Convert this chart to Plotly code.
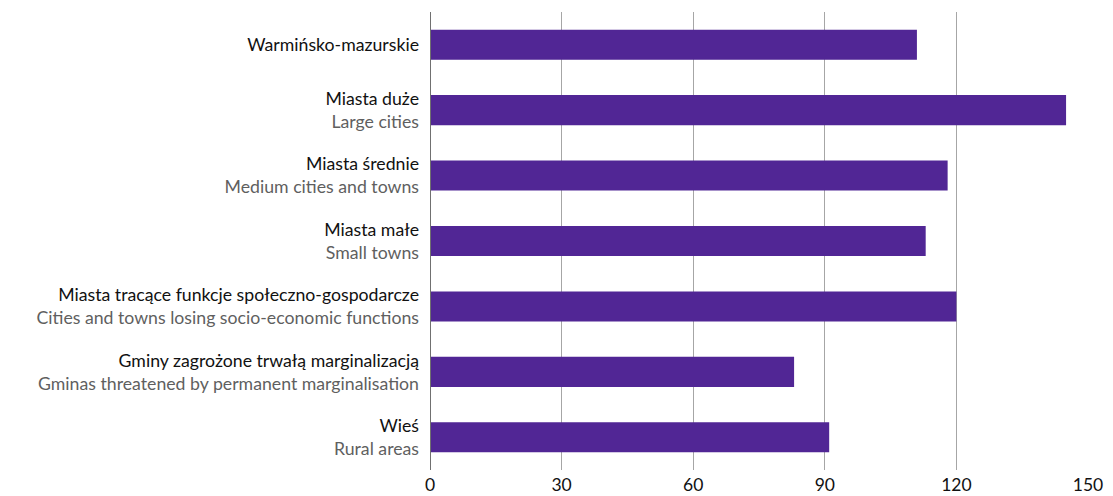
import plotly.graph_objects as go

# kategorie (PL / EN) i wartości
labels_pl = [
    "Warmińsko-mazurskie",
    "Miasta duże",
    "Miasta średnie",
    "Miasta małe",
    "Miasta tracące funkcje społeczno-gospodarcze",
    "Gminy zagrożone trwałą marginalizacją",
    "Wieś",
]
labels_en = [
    "",
    "Large cities",
    "Medium cities and towns",
    "Small towns",
    "Cities and towns losing socio-economic functions",
    "Gminas threatened by permanent marginalisation",
    "Rural areas",
]
values = [111, 145, 118, 113, 120, 83, 91]
x_ticks = [0, 30, 60, 90, 120, 150]

ticktext = []
for pl, en in zip(labels_pl, labels_en):
    if en:
        ticktext.append(pl + "<br><span style='color:#5f5f5f'>" + en + "</span>")
    else:
        ticktext.append(pl)

ids = list(range(len(values)))

fig = go.Figure()
fig.add_trace(go.Bar(
    x=values,
    y=ids,
    orientation='h',
    width=0.46,
    marker=dict(color='#512695', line=dict(width=0)),
    hovertemplate='%{x}<extra></extra>',
))

# strona ma 8px marginesu body, więc rozmiar i marginesy są o to pomniejszone
fig.update_layout(
    width=1105,
    height=488,
    margin=dict(l=422, r=25, t=4, b=26),
    plot_bgcolor='white',
    paper_bgcolor='white',
    showlegend=False,
    font=dict(family='Lato', size=17.7, color='#111111'),
)

fig.update_xaxes(
    range=[0, 150],
    tickvals=x_ticks,
    showgrid=True,
    gridcolor='#a6a6a6',
    gridwidth=1,
    zeroline=False,
    showline=False,
    ticks='',
    automargin=False,
    ticklabelstandoff=2,
    tickfont=dict(size=17.5, color='#111111'),
)

fig.update_yaxes(
    range=[len(values) - 0.5, -0.5],
    tickvals=ids,
    ticktext=ticktext,
    showgrid=False,
    zeroline=False,
    showline=False,
    ticks='',
    automargin=False,
    ticklabelstandoff=10,
    tickfont=dict(size=17.7, color='#111111'),
)

# oś pionowa przy zerze
fig.add_shape(type='line', xref='x', yref='paper', x0=0, x1=0, y0=0, y1=1,
              line=dict(color='#707070', width=2))

fig.write_html("out.html")
